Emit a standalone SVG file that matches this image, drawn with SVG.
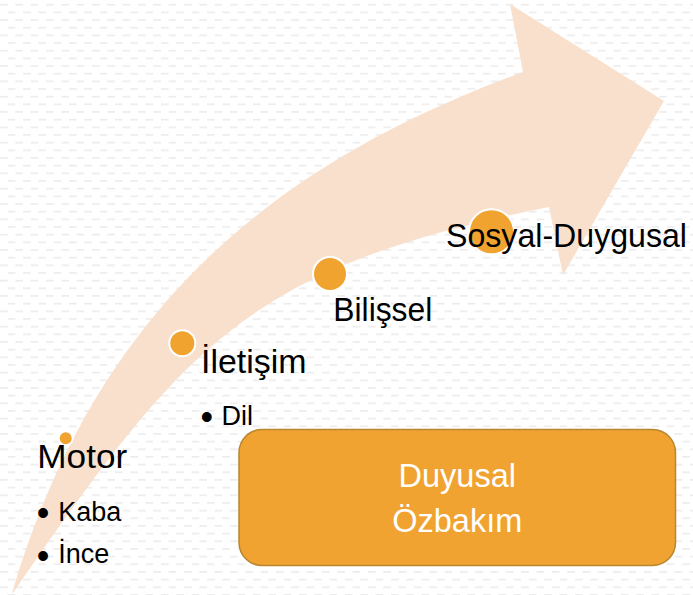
<svg xmlns="http://www.w3.org/2000/svg" width="693" height="595" viewBox="0 0 693 595">
  <defs>
    <pattern id="bg" width="15.33" height="15.33" patternUnits="userSpaceOnUse">
      <rect x="0" y="4.1" width="7.67" height="1.2" fill="#e5e5e5"/>
      <rect x="7.67" y="11.77" width="7.67" height="1.2" fill="#e5e5e5"/>
    </pattern>
    <style>
      .lbl { font-family: "Liberation Sans", Arial, sans-serif; font-size: 33px; fill: #000; }
      .sub { font-family: "Liberation Sans", Arial, sans-serif; font-size: 27px; fill: #000; }
      .bul { font-size: 36px; }
      .box-txt { font-family: "Liberation Sans", Arial, sans-serif; font-size: 32.5px; fill: #fff; text-anchor: middle; }
      .dot { fill: #F0A32F; stroke: #fff; stroke-width: 2; }
      .box { fill: #F0A330; stroke: #B8862F; stroke-width: 1.5; }
      .arrow { fill: #F9E0CD; }
    </style>
  </defs>
  <rect width="693" height="595" fill="#fff"/>
  <rect width="693" height="595" fill="url(#bg)"/>

  <g id="arrow-path">
    <path class="arrow" d="M 12,593 C 100,293 293,157 523,72 L 510,4 L 664,101 L 563,275 L 549,207 C 249,267 185,343 13,593 Z"/>
  </g>

  <g id="node-motor">
    <circle class="dot" cx="65.7" cy="438.3" r="7"/>
    <text class="lbl" x="37.3" y="468.3" textLength="90" lengthAdjust="spacingAndGlyphs">Motor</text>
    <text class="sub"><tspan class="bul" x="36.7" y="525">•</tspan><tspan x="58.3" y="520.7">Kaba</tspan></text>
    <text class="sub"><tspan class="bul" x="36.7" y="567.5">•</tspan><tspan x="58.3" y="563.3">İnce</tspan></text>
  </g>

  <g id="node-iletisim">
    <circle class="dot" cx="182.3" cy="343.3" r="13"/>
    <text class="lbl" x="201" y="372.7" textLength="105.5" lengthAdjust="spacingAndGlyphs">İletişim</text>
    <text class="sub"><tspan class="bul" x="200.4" y="429">•</tspan><tspan x="221.5" y="424.5">Dil</tspan></text>
  </g>

  <g id="node-bilissel">
    <circle class="dot" cx="330" cy="274" r="17"/>
    <text class="lbl" x="333.3" y="320.7" textLength="99" lengthAdjust="spacingAndGlyphs">Bilişsel</text>
  </g>

  <g id="node-sosyal">
    <circle class="dot" cx="491.5" cy="231.7" r="22.5"/>
    <text class="lbl" x="446" y="246.7" textLength="241" lengthAdjust="spacingAndGlyphs">Sosyal-Duygusal</text>
  </g>

  <g id="node-duyusal">
    <rect class="box" x="239" y="429.5" width="436.5" height="136" rx="23" ry="23"/>
    <text class="box-txt" x="457.3" y="486.7">Duyusal</text>
    <text class="box-txt" x="457.3" y="531.7">Özbakım</text>
  </g>
</svg>
